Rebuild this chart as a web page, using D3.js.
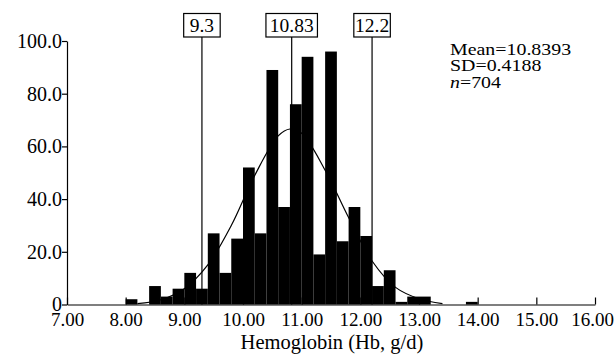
<!DOCTYPE html>
<html>
<head>
<meta charset="utf-8">
<script src="https://cdn.jsdelivr.net/npm/d3@7"></script>
<style>
  body { margin: 0; background: #fff; }
  svg text { font-family: "Liberation Serif", "Times New Roman", serif; fill: #000; }
</style>
</head>
<body>
<script>
// histogram bins (lower edge, width 0.2) and counts
var binLow = [8.0, 8.2, 8.4, 8.6, 8.8, 9.0, 9.2, 9.4, 9.6, 9.8, 10.0, 10.2, 10.4, 10.6, 10.8,
              11.0, 11.2, 11.4, 11.6, 11.8, 12.0, 12.2, 12.4, 12.6, 12.8, 13.0, 13.2, 13.4, 13.6, 13.8];
var counts = [2, 0, 7, 3, 6, 12, 6, 27, 12, 25, 52, 27, 89, 37, 76,
              94, 19, 96, 24, 37, 26, 7, 13, 1, 3, 3, 0, 0, 0, 1];
var binWidth = 0.2;

// fitted curve, points
var curveX = [8.2, 8.6, 9.0, 9.4, 9.8, 10.2, 10.6, 10.8, 11.0, 11.4, 11.8, 12.2, 12.6, 13.0, 13.4];
var curveY = [0.3, 1.8, 6, 15, 30, 49, 64, 66.6, 65, 51, 33, 16.5, 6.5, 2.2, 0.3];

// reference lines
var refValues = [9.3, 10.83, 12.2];
var refLabels = ["9.3", "10.83", "12.2"];

var xTicks = [7, 8, 9, 10, 11, 12, 13, 14, 15, 16];
var yTicks = [0, 20, 40, 60, 80, 100];
var statLines = [["Mean=10.8393", ""], ["SD=0.4188", ""], ["n", "=704"]];

var width = 615, height = 357;
var boxW = [36.5, 51.5, 36.5];
var svg = d3.select("body").append("svg").attr("width", width).attr("height", height);

var x = d3.scaleLinear().domain([7, 16]).range([67, 595]);
var y = d3.scaleLinear().domain([0, 100]).range([304.5, 41]);

// bars
svg.append("g").selectAll("rect")
    .data(counts)
    .enter().append("rect")
    .attr("x", (d, i) => x(binLow[i]))
    .attr("width", (d, i) => x(binLow[i] + binWidth) - x(binLow[i]))
    .attr("y", (d) => y(d))
    .attr("height", (d) => y(0) - y(d))
    .attr("fill", "#000");

// curve
var line = d3.line()
    .x((d, i) => x(curveX[i]))
    .y((d) => y(d))
    .curve(d3.curveCatmullRom);
svg.append("path")
    .attr("d", line(curveY))
    .attr("fill", "none")
    .attr("stroke", "#000")
    .attr("stroke-width", 1.2);

// reference lines with boxed labels
var ref = svg.append("g").selectAll("g")
    .data(refValues)
    .enter().append("g");
ref.append("line")
    .attr("x1", (d) => x(d)).attr("x2", (d) => x(d))
    .attr("y1", 37).attr("y2", y(0))
    .attr("stroke", "#000").attr("stroke-width", 1.2);
ref.append("rect")
    .attr("x", (d, i) => x(d) - boxW[i] / 2).attr("y", 13.5)
    .attr("width", (d, i) => boxW[i]).attr("height", 23.5)
    .attr("fill", "#fff").attr("stroke", "#000").attr("stroke-width", 1.2);
ref.append("text")
    .attr("x", (d) => x(d))
    .attr("y", 32)
    .attr("text-anchor", "middle")
    .style("font-size", "19.5px")
    .text((d, i) => refLabels[i]);

// x axis
var xAxis = d3.axisBottom(x).tickValues(xTicks).tickSizeInner(-7).tickSizeOuter(0)
    .tickFormat(d3.format(".2f"));
var gx = svg.append("g").attr("transform", "translate(0," + y(0) + ")").call(xAxis);
gx.select(".domain").attr("stroke-width", 1.2);
gx.selectAll(".tick line").attr("stroke-width", 1.2);
gx.selectAll(".tick text").attr("y", 8).style("font-size", "19px")
    .attr("dx", (d) => d == 16 ? -3 : 0);

// y axis
var yAxis = d3.axisLeft(y).tickValues(yTicks).tickSizeInner(5).tickSizeOuter(0)
    .tickFormat((d) => d == 0 ? "0" : d3.format(".1f")(d));
var gy = svg.append("g").attr("transform", "translate(" + x(7) + ",0)").call(yAxis);
gy.select(".domain").attr("stroke-width", 1.2);
gy.selectAll(".tick line").attr("stroke-width", 1.2);
gy.selectAll(".tick text").attr("x", -5).style("font-size", "20px");

// axis title
svg.append("text")
    .attr("x", 332).attr("y", 349)
    .attr("text-anchor", "middle")
    .style("font-size", "20.5px")
    .text("Hemoglobin (Hb, g/d)");

// stats
var stats = svg.append("g").selectAll("text")
    .data(statLines)
    .enter().append("text")
    .attr("x", 450)
    .attr("y", (d, i) => 55 + i * 16.3)
    .style("font-size", "17px");
stats.append("tspan")
    .style("font-style", (d) => d[1] ? "italic" : null)
    .text((d) => d[0]);
stats.append("tspan").text((d) => d[1]);
// the reference text is a bit wider than its height suggests
stats.each(function () {
    var w = this.getComputedTextLength();
    d3.select(this).attr("textLength", w * 1.17).attr("lengthAdjust", "spacingAndGlyphs");
});
</script>
</body>
</html>
